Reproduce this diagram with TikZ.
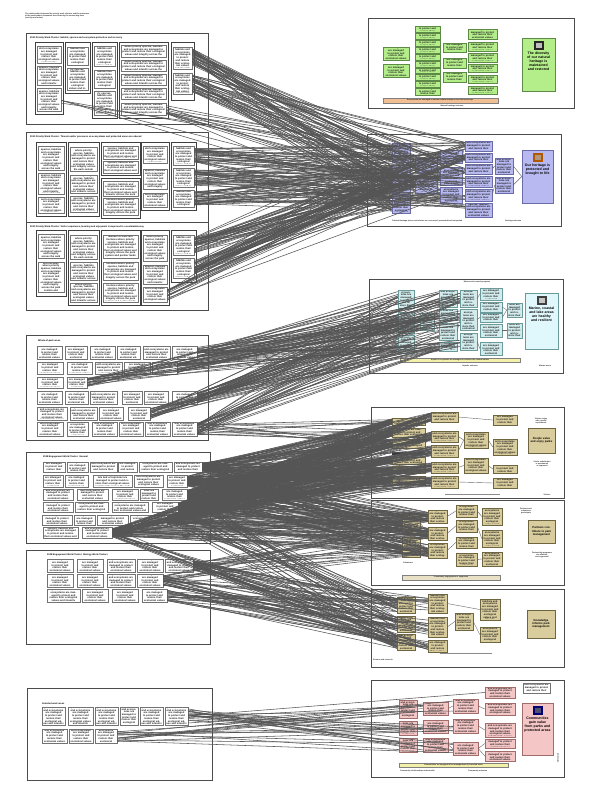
\documentclass[tikz,border=0pt]{standalone}
\usepackage{fontspec}
\setmainfont{Liberation Sans}
\usetikzlibrary{calc}
\definecolor{grnf}{HTML}{B4EE8A}
\definecolor{grnd}{HTML}{5E8A48}
\definecolor{lavf}{HTML}{B7B9F0}
\definecolor{lavd}{HTML}{6A6CA8}
\definecolor{cyf}{HTML}{D2ECEE}
\definecolor{cyd}{HTML}{6A9A9A}
\definecolor{cybig}{HTML}{E0F7FB}
\definecolor{tanf}{HTML}{D9CD9E}
\definecolor{tand}{HTML}{6E6640}
\definecolor{pinkf}{HTML}{F5C6C6}
\definecolor{pinkd}{HTML}{A06C6C}
\definecolor{orgf}{HTML}{F2BE94}
\definecolor{ylwf}{HTML}{F3F0AA}
\definecolor{linec}{HTML}{555555}
\newcommand\fl{Number of sites and hectares where priority species, habitats and ecosystems are managed to protect and restore their ecological values and integrity across the park system and partner lands}
\newcommand\pn[6]{%
 \pgfmathsetmacro\bxw{#5-#3}\pgfmathsetmacro\bxh{#6-#4}%
 \node[#1, minimum width=\bxw pt, minimum height=\bxh pt, inner sep=0pt] (#2) at ({(#3+#5)/2},{(#4+#6)/2}) {};}
\newcommand\bx[6]{%
 \pn{#1}{#2}{#3}{#4}{#5}{#6}%
 \pgfmathsetmacro\bxtw{max(#5-#3-2.6,1)}%
 \begin{scope}\clip ({#3+1.3},{#4+1.2}) rectangle ({#5-1.3},{#6-1.2});%
 \node[ftx, text width=\bxtw pt] at ({(#3+#5)/2},{(#4+#6)/2}) {\fl};%
 \end{scope}}
\newcommand\bigbx[8]{% style name x1 y1 x2 y2 text iconcolour
 \pn{#1}{#2}{#3}{#4}{#5}{#6}%
 \pgfmathsetmacro\bxtw{#5-#3-3}%
 \fill[#8] ({(#3+#5)/2-5},{#4+3}) rectangle ({(#3+#5)/2+5},{#4+12});
 \fill[white!70!#8] ({(#3+#5)/2-3},{#4+5}) rectangle ({(#3+#5)/2+3},{#4+10});
 \node[bigt, text width=\bxtw pt, anchor=north] at ({(#3+#5)/2},{#4+13.5}) {#7};}
\newcommand\bundle[7]{%
 \foreach \kk in {1,...,#1}{%
  \pgfmathrandominteger{\sr}{#3}{#4}%
  \pgfmathrandominteger{\tg}{#6}{#7}%
  \pgfmathsetmacro\ra{0.1+0.8*rnd}%
  \pgfmathsetmacro\rb{0.1+0.8*rnd}%
  \draw[conn] ($(#2\sr.north east)!\ra!(#2\sr.south east)$) -- ($(#5\tg.north west)!\rb!(#5\tg.south west)$);%
 }}
\newcommand\ic[2]{\draw[iconn] (#1.east) -- (#2.west);}
\tikzset{
 panel/.style={draw=black!70, line width=0.8pt, fill=white},
 grp/.style={draw=black!75, line width=0.9pt},
 wbox/.style={draw=black!55, line width=0.5pt, fill=white},
 gbox/.style={draw=grnd, line width=0.5pt, fill=grnf},
 lbox/.style={draw=lavd, line width=0.5pt, fill=lavf},
 cbox/.style={draw=cyd, line width=0.5pt, fill=cyf},
 cbigbox/.style={draw=cyd, line width=0.5pt, fill=cybig},
 tbox/.style={draw=tand, line width=0.5pt, fill=tanf},
 pbox/.style={draw=pinkd, line width=0.5pt, fill=pinkf},
 barO/.style={draw=black!50, fill=orgf, line width=0.5pt},
 barY/.style={draw=black!50, fill=ylwf, line width=0.5pt},
 barT/.style={draw=black!50, fill=tanf!60, line width=0.5pt},
 conn/.style={draw=linec, line width=0.55pt},
 iconn/.style={draw=black!60, line width=0.4pt},
 ftx/.style={font=\fontsize{2.5}{2.7}\selectfont\bfseries, align=center, inner sep=0pt, text=black!90},
 tinyt/.style={font=\fontsize{1.9}{2.2}\selectfont\bfseries, inner sep=0pt, text=black!85},
 ttl/.style={font=\fontsize{2.3}{2.6}\selectfont\bfseries, inner sep=0pt, anchor=west},
 bigt/.style={font=\fontsize{3.5}{4.1}\selectfont\bfseries, align=center, inner sep=0pt},
 bigs/.style={font=\fontsize{2.8}{3.2}\selectfont\bfseries, align=center, inner sep=0pt},
}
\begin{document}
\begin{tikzpicture}[x=1pt,y=-1pt]
\useasboundingbox (0,0) rectangle (605,792);
\fill[white] (0,0) rectangle (605,792);
\pgfmathsetseed{4242}
% header
\node[tinyt, anchor=north west, align=left] (hdr) at (25,13) {The relationships between the priority work clusters and the outcomes\\of the performance framework are shown by the connecting lines\\(see key and notes)};
% ---------------- Panel 1
\pn{panel}{P1}{26}{33}{208}{124}
\node[ttl] (P1t) at (30,37.5) {2001 Priority Work Cluster: Habitat, species and ecosystem protection and recovery};
\pn{grp}{P1g1}{35}{42}{63}{114}
\bx{wbox}{p1n1}{37}{46}{61}{63}
\bx{wbox}{p1n2}{37}{66}{61}{85}
\bx{wbox}{p1n3}{37}{88}{61}{111}
\pn{grp}{P1g2}{65}{42}{90}{93}
\bx{wbox}{p1n4}{67}{47}{88}{65}
\bx{wbox}{p1n5}{67}{68}{88}{90}
\pn{grp}{P1g3}{92}{42}{117}{118}
\bx{wbox}{p1n6}{94}{46}{115}{66}
\bx{wbox}{p1n7}{94}{70}{115}{88}
\bx{wbox}{p1n8}{94}{91}{115}{115}
\pn{grp}{P1g4}{119}{42}{168}{118}
\bx{wbox}{p1n9}{121}{45}{166}{57}
\bx{wbox}{p1n10}{121}{60}{166}{71}
\bx{wbox}{p1n11}{121}{74}{166}{85}
\bx{wbox}{p1n12}{121}{88}{166}{99}
\bx{wbox}{p1n13}{121}{103}{166}{115}
\pn{grp}{P1g5}{171}{42}{194}{100}
\bx{wbox}{p1n14}{173}{47}{192}{69}
\bx{wbox}{p1n15}{173}{73}{192}{94}
% ---------------- Panel 2
\pn{panel}{P2}{26}{132}{208}{222}
\node[ttl] (P2t) at (30,137) {2001 Priority Work Cluster: Threats and/or pressures on ecosystems and protected areas are reduced};
\pn{grp}{P2g1}{36}{142}{66}{216}
\bx{wbox}{p2n1}{38}{146}{64}{170}
\bx{wbox}{p2n2}{38}{173}{64}{194}
\bx{wbox}{p2n3}{38}{197}{64}{213}
\pn{grp}{P2g2}{68}{142}{99}{216}
\bx{wbox}{p2n4}{70}{147}{97}{171}
\bx{wbox}{p2n5}{70}{175}{97}{193}
\bx{wbox}{p2n6}{70}{196}{97}{212}
\pn{grp}{P2g3}{101}{142}{140}{175}
\bx{wbox}{p2n7}{103}{146}{138}{159}
\bx{wbox}{p2n8}{103}{161}{138}{173}
\pn{grp}{P2g4}{101}{178}{140}{218}
\bx{wbox}{p2n9}{103}{181}{138}{196}
\bx{wbox}{p2n10}{103}{198}{138}{215}
\pn{grp}{P2g5}{141}{142}{169}{210}
\bx{wbox}{p2n11}{143}{146}{167}{163}
\bx{wbox}{p2n12}{143}{169}{167}{189}
\bx{wbox}{p2n13}{143}{193}{167}{207}
\pn{grp}{P2g6}{171}{142}{196}{210}
\bx{wbox}{p2n14}{173}{146}{194}{165}
\bx{wbox}{p2n15}{173}{168}{194}{187}
\bx{wbox}{p2n16}{173}{190}{194}{207}
% ---------------- Panel 3
\pn{panel}{P3}{26}{222}{208}{310}
\node[ttl] (P3t) at (30,227) {2001 Priority Work Cluster: Visitor experience, learning and enjoyment is improved in a sustainable way};
\pn{grp}{P3g1}{36}{230}{66}{296}
\bx{wbox}{p3n1}{38}{234}{64}{258}
\bx{wbox}{p3n2}{38}{262}{64}{292}
\pn{grp}{P3g2}{68}{230}{99}{305}
\bx{wbox}{p3n3}{70}{235}{97}{259}
\bx{wbox}{p3n4}{70}{262}{97}{280}
\bx{wbox}{p3n5}{70}{283}{97}{302}
\pn{grp}{P3g3}{101}{230}{140}{305}
\bx{wbox}{p3n6}{103}{235}{138}{258}
\bx{wbox}{p3n7}{103}{262}{138}{280}
\bx{wbox}{p3n8}{103}{283}{138}{302}
\pn{grp}{P3g4}{141}{230}{169}{305}
\bx{wbox}{p3n9}{143}{235}{167}{261}
\bx{wbox}{p3n10}{143}{265}{167}{284}
\bx{wbox}{p3n11}{143}{287}{167}{302}
\pn{grp}{P3g5}{171}{230}{196}{282}
\bx{wbox}{p3n12}{173}{235}{194}{255}
\bx{wbox}{p3n13}{173}{258}{194}{278}
% ---------------- Panel 4
\pn{panel}{P4}{26}{335}{208}{440}
\node[ttl] (P4t) at (38,341) {Whole-of-park areas};
\bx{wbox}{p4n1}{37}{346}{62}{359}
\bx{wbox}{p4n2}{65}{346}{87}{359}
\bx{wbox}{p4n3}{90}{346}{115}{359}
\bx{wbox}{p4n4}{117}{346}{140}{359}
\bx{wbox}{p4n5}{143}{346}{170}{359}
\bx{wbox}{p4n6}{172}{346}{197}{359}
\bx{wbox}{p4n7}{37}{362}{63}{374}
\bx{wbox}{p4n8}{67}{362}{92}{374}
\bx{wbox}{p4n9}{95}{362}{122}{374}
\bx{wbox}{p4n10}{124}{362}{150}{374}
\bx{wbox}{p4n11}{152}{362}{177}{374}
\bx{wbox}{p4n12}{37}{377}{63}{388}
\bx{wbox}{p4n13}{67}{377}{87}{388}
\bx{wbox}{p4n14}{37}{391}{62}{404}
\bx{wbox}{p4n15}{65}{391}{88}{404}
\bx{wbox}{p4n16}{90}{391}{117}{404}
\bx{wbox}{p4n17}{122}{391}{142}{404}
\bx{wbox}{p4n18}{144}{391}{168}{404}
\bx{wbox}{p4n19}{172}{391}{197}{404}
\bx{wbox}{p4n20}{37}{407}{67}{420}
\bx{wbox}{p4n21}{70}{407}{97}{420}
\bx{wbox}{p4n22}{99}{407}{123}{420}
\bx{wbox}{p4n23}{128}{407}{150}{420}
\bx{wbox}{p4n24}{37}{422}{63}{436}
\bx{wbox}{p4n25}{67}{422}{88}{436}
\bx{wbox}{p4n26}{92}{422}{117}{436}
\bx{wbox}{p4n27}{119}{422}{143}{436}
\bx{wbox}{p4n28}{145}{422}{170}{436}
\bx{wbox}{p4n29}{172}{422}{197}{436}
% ---------------- Panel 5
\pn{panel}{P5}{26}{452}{210}{543}
\node[ttl] (P5t) at (43,457) {2008 Engagement Work Cluster: General};
\bx{wbox}{p5n1}{43}{462}{65}{472}
\bx{wbox}{p5n2}{67}{462}{88}{472}
\bx{wbox}{p5n3}{90}{462}{117}{472}
\bx{wbox}{p5n4}{118}{462}{137}{472}
\bx{wbox}{p5n5}{139}{462}{172}{472}
\bx{wbox}{p5n6}{174}{462}{202}{472}
\bx{wbox}{p5n7}{43}{475}{63}{487}
\bx{wbox}{p5n8}{65}{475}{88}{487}
\bx{wbox}{p5n9}{93}{475}{132}{487}
\bx{wbox}{p5n10}{134}{475}{163}{487}
\bx{wbox}{p5n11}{167}{475}{187}{487}
\bx{wbox}{p5n12}{43}{489}{73}{500}
\bx{wbox}{p5n13}{77}{489}{108}{500}
\bx{wbox}{p5n14}{112}{489}{138}{500}
\bx{wbox}{p5n15}{140}{489}{158}{500}
\bx{wbox}{p5n16}{162}{489}{187}{500}
\bx{wbox}{p5n17}{43}{502}{73}{512}
\bx{wbox}{p5n18}{75}{502}{108}{512}
\bx{wbox}{p5n19}{112}{502}{148}{512}
\bx{wbox}{p5n20}{152}{502}{178}{512}
\bx{wbox}{p5n21}{42}{515}{72}{525}
\bx{wbox}{p5n22}{74}{515}{95}{525}
\bx{wbox}{p5n23}{97}{515}{128}{525}
\bx{wbox}{p5n24}{130}{515}{167}{525}
\bx{wbox}{p5n25}{43}{527}{78}{538}
\bx{wbox}{p5n26}{82}{527}{112}{538}
% ---------------- Panel 6
\pn{panel}{P6}{26}{550}{210}{644}
\node[ttl] (P6t) at (47,555) {2008 Engagement Work Cluster: Biology Work Clusters};
\bx{wbox}{p6n1}{47}{559}{73}{572}
\bx{wbox}{p6n2}{77}{559}{103}{572}
\bx{wbox}{p6n3}{107}{559}{135}{572}
\bx{wbox}{p6n4}{137}{559}{163}{572}
\bx{wbox}{p6n5}{165}{559}{193}{572}
\bx{wbox}{p6n6}{47}{574}{73}{587}
\bx{wbox}{p6n7}{77}{574}{103}{587}
\bx{wbox}{p6n8}{107}{574}{135}{587}
\bx{wbox}{p6n9}{137}{574}{163}{587}
\bx{wbox}{p6n10}{47}{589}{80}{602}
\bx{wbox}{p6n11}{82}{589}{108}{602}
\bx{wbox}{p6n12}{112}{589}{138}{602}
\bx{wbox}{p6n13}{142}{589}{167}{602}
% ---------------- Panel 7
\pn{panel}{P7}{27}{688}{212}{780}
\node[ttl] (P7t) at (42,704) {Selected work areas};
\bx{wbox}{p7n1}{42}{707}{65}{725}
\bx{wbox}{p7n2}{68}{707}{93}{725}
\bx{wbox}{p7n3}{95}{707}{118}{725}
\bx{wbox}{p7n4}{120}{707}{138}{725}
\bx{wbox}{p7n5}{140}{707}{163}{725}
\bx{wbox}{p7n6}{165}{707}{188}{725}
\bx{wbox}{p7n7}{42}{729}{67}{743}
\bx{wbox}{p7n8}{69}{729}{93}{743}
\bx{wbox}{p7n9}{95}{729}{117}{743}
% ================= Right panels
% R1 green
\pn{panel}{R1}{368}{18}{574}{108}
\bx{gbox}{r1n1}{383}{47}{409}{60}
\bx{gbox}{r1n2}{383}{64}{409}{77}
\bx{gbox}{r1n3}{415}{26}{440}{32}
\bx{gbox}{r1n4}{415}{33}{440}{39}
\bx{gbox}{r1n5}{415}{40}{440}{46}
\bx{gbox}{r1n6}{415}{47}{440}{53}
\bx{gbox}{r1n7}{415}{54}{440}{60}
\bx{gbox}{r1n8}{415}{61}{440}{67}
\bx{gbox}{r1n9}{415}{68}{440}{73}
\bx{gbox}{r1n10}{415}{74}{440}{80}
\bx{gbox}{r1n11}{415}{81}{440}{87}
\bx{gbox}{r1n12}{415}{88}{440}{95}
\bx{gbox}{r1n13}{443}{43}{466}{52}
\bx{gbox}{r1n14}{443}{58}{466}{68}
\bx{gbox}{r1n15}{443}{72}{466}{82}
\bx{gbox}{r1n16}{468}{29}{497}{39}
\bx{gbox}{r1n17}{468}{42}{497}{51}
\bx{gbox}{r1n18}{468}{53}{497}{62}
\bx{gbox}{r1n19}{468}{64}{497}{72}
\bx{gbox}{r1n20}{468}{75}{497}{83}
\bx{gbox}{r1n21}{468}{86}{497}{94}
\bigbx{gbox}{R1big}{522}{38}{555}{91}{The diversity of our natural heritage is maintained and restored}{black!85}
\pn{barO}{R1bar}{383}{98}{498}{103}
\node[tinyt] (R1bart) at (440,100.5) {Ecosystems are managed to sustain natural values across the landscape};
\node[tinyt] (R1ft) at (452,106) {Natural heritage outcome};
% R2 lavender
\pn{panel}{R2}{367}{134}{561}{226}
\bx{lbox}{r2n1}{392}{143}{410}{162}
\bx{lbox}{r2n2}{392}{165}{410}{178}
\bx{lbox}{r2n3}{392}{180}{410}{192}
\bx{lbox}{r2n4}{392}{194}{410}{213}
\bx{lbox}{r2n5}{415}{158}{437}{172}
\bx{lbox}{r2n6}{415}{176}{437}{193}
\bx{lbox}{r2n7}{440}{150}{462}{163}
\bx{lbox}{r2n8}{440}{167}{462}{185}
\bx{lbox}{r2n9}{440}{187}{462}{203}
\bx{lbox}{r2n10}{465}{141}{492}{151}
\bx{lbox}{r2n11}{465}{153}{492}{162}
\bx{lbox}{r2n12}{465}{164}{492}{174}
\bx{lbox}{r2n13}{465}{176}{492}{187}
\bx{lbox}{r2n14}{465}{189}{492}{201}
\bx{lbox}{r2n15}{465}{203}{492}{217}
\bx{lbox}{r2n16}{495}{158}{513}{174}
\bx{lbox}{r2n17}{495}{177}{513}{193}
\bigbx{lbox}{R2big}{522}{150}{553}{203}{Our heritage is protected and brought to life}{orange!70!black}
\node[tinyt, anchor=west] (R2ft) at (392,221) {Cultural heritage places and stories are conserved, presented and interpreted};
\node[tinyt, anchor=west] (R2ft2) at (505,221) {Heritage outcome};
% R3 cyan
\pn{panel}{R3}{369}{279}{563}{373}
\bx{cbox}{r3n1}{398}{290}{414}{308}
\bx{cbox}{r3n2}{398}{312}{414}{333}
\bx{cbox}{r3n3}{398}{335}{414}{353}
\bx{cbox}{r3n4}{420}{313}{434}{330}
\bx{cbox}{r3n5}{439}{290}{457}{307}
\bx{cbox}{r3n6}{439}{309}{457}{320}
\bx{cbox}{r3n7}{439}{323}{457}{340}
\bx{cbox}{r3n8}{439}{342}{457}{351}
\bx{cbox}{r3n9}{460}{290}{477}{307}
\bx{cbox}{r3n10}{460}{309}{477}{330}
\bx{cbox}{r3n11}{460}{333}{477}{350}
\bx{cbox}{r3n12}{480}{288}{502}{300}
\bx{cbox}{r3n13}{480}{302}{502}{312}
\bx{cbox}{r3n14}{480}{313}{502}{322}
\bx{cbox}{r3n15}{480}{324}{502}{337}
\bx{cbox}{r3n16}{480}{342}{502}{355}
\bx{cbox}{r3n17}{507}{303}{522}{317}
\bx{cbox}{r3n18}{507}{323}{522}{338}
\bigbx{cbigbox}{R3big}{525}{293}{558}{349}{Marine, coastal and lake areas are healthy and resilient}{black!75}
\pn{barY}{R3bar}{400}{358}{520}{362}
\node[tinyt] (R3bart) at (460,360) {Aquatic ecosystems are managed to sustain their natural values};
\node[tinyt] (R3top) at (477,282.5) {Marine and coastal programs};
\node[tinyt] (R3bot) at (470,366) {Aquatic outcome};
\node[tinyt] (R3rt) at (545,366) {Marine areas};
% R4 tan
\pn{panel}{R4}{371}{407}{564}{498}
\bx{tbox}{r4n1}{392}{418}{425}{425}
\bx{tbox}{r4n2}{392}{428}{425}{437}
\bx{tbox}{r4n3}{392}{439}{425}{448}
\fill[black!80] (392,452) rectangle (425,454.5);
\bx{tbox}{r4n4}{392}{457}{425}{464}
\bx{tbox}{r4n5}{392}{466}{425}{473}
\bx{tbox}{r4n6}{392}{476}{425}{484}
\bx{tbox}{r4n7}{431}{412}{458}{422}
\bx{tbox}{r4n8}{431}{431}{458}{442}
\bx{tbox}{r4n9}{431}{445}{458}{457}
\bx{tbox}{r4n10}{431}{462}{458}{473}
\bx{tbox}{r4n11}{431}{476}{458}{488}
\bx{tbox}{r4n12}{464}{432}{488}{448}
\bx{tbox}{r4n13}{464}{458}{488}{473}
\bx{tbox}{r4n14}{493}{415}{517}{425}
\bx{tbox}{r4n15}{493}{439}{517}{455}
\bx{tbox}{r4n16}{493}{465}{517}{473}
\bx{tbox}{r4n17}{493}{478}{517}{488}
\node[tinyt, align=center] (R4rt) at (541,421) {Visitors enjoy\\safe, quality\\experiences};
\pn{tbox}{R4big}{528}{428}{555}{453}
\node[bigs, text width=25pt] (R4bigt) at (541.5,440.5) {People value and enjoy parks};
\node[tinyt, align=center] (R4rb) at (542,464) {Visitor satisfaction\\is maintained\\or improved};
\draw[black!45, line width=0.5pt] (445,494) -- (500,494);
\node[tinyt] (R4ft) at (547,495) {Visitors};
% R5 tan
\pn{panel}{R5}{371}{500}{564}{585}
\bx{tbox}{r5n1}{402}{513}{420}{533}
\bx{tbox}{r5n2}{402}{537}{420}{557}
\bx{tbox}{r5n3}{428}{510}{447}{523}
\bx{tbox}{r5n4}{428}{527}{447}{540}
\bx{tbox}{r5n5}{428}{543}{447}{558}
\bx{tbox}{r5n6}{456}{505}{477}{517}
\bx{tbox}{r5n7}{456}{520}{477}{532}
\bx{tbox}{r5n8}{456}{537}{477}{548}
\bx{tbox}{r5n9}{456}{553}{477}{566}
\bx{tbox}{r5n10}{482}{508}{502}{525}
\bx{tbox}{r5n11}{482}{530}{502}{547}
\bx{tbox}{r5n12}{482}{552}{502}{566}
\node[tinyt, align=center] (R5rt) at (526,511) {Partners and\\volunteers\\participate};
\pn{tbox}{R5big}{528}{520}{555}{543}
\node[bigs, text width=25pt] (R5bigt) at (541.5,531.5) {Partners contribute to park management};
\node[tinyt, align=center] (R5rb) at (542,555) {Partnership programs\\are effective\\and supported};
\node[tinyt, anchor=west] (R5lt) at (403,563) {Volunteers};
\pn{barT}{R5bar}{402}{575}{500}{580}
\node[tinyt] (R5bart) at (451,577.5) {Community engagement is supported};
% R6 tan
\pn{panel}{R6}{371}{589}{564}{667}
\bx{tbox}{r6n1}{397}{597}{415}{613}
\bx{tbox}{r6n2}{397}{616}{415}{632}
\bx{tbox}{r6n3}{397}{634}{415}{650}
\bx{tbox}{r6n4}{428}{594}{447}{613}
\bx{tbox}{r6n5}{428}{617}{447}{637}
\bx{tbox}{r6n6}{428}{640}{447}{652}
\bx{tbox}{r6n7}{455}{613}{473}{630}
\bx{tbox}{r6n8}{480}{599}{500}{620}
\bx{tbox}{r6n9}{480}{627}{500}{642}
\pn{tbox}{R6big}{527}{610}{555}{638}
\node[bigs, text width=26pt] (R6bigt) at (541,624) {Knowledge informs park management};
\draw[black!45, line width=0.5pt] (440,653) -- (492,653);
\node[tinyt, anchor=west] (R6ft) at (373,660) {Science and research};
% R7 pink
\pn{panel}{R7}{371}{680}{564}{777}
\bx{pbox}{r7n1}{399}{700}{417}{718}
\bx{pbox}{r7n2}{399}{721}{417}{735}
\bx{pbox}{r7n3}{399}{738}{417}{752}
\bx{pbox}{r7n4}{423}{702}{448}{715}
\bx{pbox}{r7n5}{423}{720}{448}{733}
\bx{pbox}{r7n6}{423}{738}{448}{752}
\bx{pbox}{r7n7}{453}{699}{478}{713}
\bx{pbox}{r7n8}{453}{719}{478}{733}
\bx{pbox}{r7n9}{453}{742}{478}{755}
\bx{pbox}{r7n10}{485}{687}{515}{698}
\bx{pbox}{r7n11}{485}{703}{515}{715}
\bx{pbox}{r7n12}{485}{723}{515}{737}
\bx{pbox}{r7n13}{485}{739}{515}{748}
\bx{pbox}{r7n14}{485}{751}{515}{761}
\bx{wbox}{R7key}{523}{683}{550}{693}
\bigbx{pbox}{R7big}{522}{703}{553}{755}{Communities gain value from parks and protected areas}{blue!45!black}
\pn{barY}{R7bar}{399}{763}{508}{767}
\node[tinyt] (R7bart) at (453.5,765) {Communities are engaged in the management of protected areas};
\node[tinyt, anchor=west] (R7ft1) at (400,771) {Community relationships and benefits};
\node[tinyt, anchor=west] (R7ft2) at (468,771) {Community outcome};
\node[tinyt, rotate=90] (R7v) at (558,758) {Outcome 4};
% ---------- internal connectors
\ic{r2n1}{r2n5}\ic{r2n2}{r2n5}\ic{r2n3}{r2n6}\ic{r2n4}{r2n6}\ic{r2n5}{r2n8}\ic{r2n6}{r2n9}
\ic{r2n7}{r2n10}\ic{r2n8}{r2n12}\ic{r2n9}{r2n14}\ic{r2n12}{r2n16}\ic{r2n14}{r2n17}\ic{r2n16}{R2big}\ic{r2n17}{R2big}
\ic{r3n2}{r3n4}\ic{r3n4}{r3n7}\ic{r3n5}{r3n9}\ic{r3n7}{r3n10}\ic{r3n10}{r3n14}\ic{r3n9}{r3n12}
\ic{r3n11}{r3n16}\ic{r3n14}{r3n17}\ic{r3n15}{r3n18}\ic{r3n13}{r3n17}
\ic{r4n1}{r4n7}\ic{r4n3}{r4n8}\ic{r4n8}{r4n12}\ic{r4n9}{r4n12}\ic{r4n10}{r4n13}\ic{r4n12}{r4n15}
\ic{r4n13}{r4n16}\ic{r4n7}{r4n14}\ic{r4n11}{r4n17}
\ic{r5n1}{r5n3}\ic{r5n1}{r5n4}\ic{r5n2}{r5n5}\ic{r5n3}{r5n6}\ic{r5n4}{r5n7}\ic{r5n5}{r5n8}
\ic{r5n6}{r5n10}\ic{r5n7}{r5n11}\ic{r5n9}{r5n12}
\ic{r6n1}{r6n4}\ic{r6n2}{r6n5}\ic{r6n3}{r6n6}\ic{r6n5}{r6n7}\ic{r6n4}{r6n8}\ic{r6n7}{r6n9}
\ic{r7n1}{r7n4}\ic{r7n2}{r7n5}\ic{r7n3}{r7n6}\ic{r7n4}{r7n7}\ic{r7n5}{r7n8}\ic{r7n6}{r7n9}
\ic{r7n7}{r7n11}\ic{r7n8}{r7n12}\ic{r7n9}{r7n13}\ic{r7n9}{r7n14}
% ---------- bundles
\bundle{35}{p1n}{14}{14}{r2n}{1}{9}
\bundle{35}{p1n}{15}{15}{r2n}{1}{12}
\bundle{12}{p1n}{13}{13}{r2n}{1}{9}
\bundle{4}{p1n}{3}{3}{r2n}{1}{6}
\bundle{35}{p2n}{14}{14}{r2n}{1}{15}
\bundle{35}{p2n}{15}{15}{r2n}{1}{15}
\bundle{35}{p2n}{16}{16}{r2n}{1}{15}
\bundle{35}{p3n}{12}{12}{r2n}{1}{12}
\bundle{35}{p3n}{13}{13}{r2n}{1}{12}
\bundle{15}{p3n}{11}{11}{r2n}{1}{9}
\bundle{26}{p4n}{6}{6}{r3n}{1}{11}
\bundle{24}{p4n}{11}{11}{r3n}{1}{11}
\bundle{22}{p4n}{13}{13}{r3n}{1}{11}
\bundle{26}{p4n}{19}{19}{r3n}{1}{11}
\bundle{24}{p4n}{23}{23}{r3n}{1}{11}
\bundle{26}{p4n}{29}{29}{r3n}{1}{11}
\bundle{14}{p4n}{29}{29}{r4n}{1}{3}
\bundle{60}{p5n}{6}{6}{r4n}{1}{11}
\bundle{60}{p5n}{11}{11}{r4n}{1}{11}
\bundle{60}{p5n}{16}{16}{r4n}{1}{11}
\bundle{60}{p5n}{20}{20}{r4n}{1}{11}
\bundle{60}{p5n}{24}{24}{r4n}{1}{11}
\bundle{50}{p5n}{26}{26}{r4n}{1}{11}
\bundle{28}{p5n}{6}{6}{r5n}{1}{5}
\bundle{28}{p5n}{11}{11}{r5n}{1}{5}
\bundle{28}{p5n}{16}{16}{r5n}{1}{5}
\bundle{28}{p5n}{20}{20}{r5n}{1}{5}
\bundle{28}{p5n}{24}{24}{r5n}{1}{5}
\bundle{28}{p5n}{26}{26}{r5n}{1}{5}
\bundle{10}{p5n}{16}{16}{r6n}{1}{3}
\bundle{10}{p5n}{20}{20}{r6n}{1}{3}
\bundle{10}{p5n}{24}{24}{r6n}{1}{3}
\bundle{12}{p5n}{26}{26}{r6n}{1}{3}
\bundle{24}{p6n}{5}{5}{r6n}{1}{6}
\bundle{24}{p6n}{9}{9}{r6n}{1}{6}
\bundle{24}{p6n}{13}{13}{r6n}{1}{6}
\bundle{10}{p6n}{5}{5}{r5n}{1}{5}
\bundle{10}{p6n}{9}{9}{r5n}{1}{5}
\bundle{18}{p7n}{6}{6}{r7n}{1}{9}
\bundle{15}{p7n}{9}{9}{r7n}{1}{9}
\draw[conn] (p7n6.east) -- (r7n10.west);
\end{tikzpicture}
\end{document}
